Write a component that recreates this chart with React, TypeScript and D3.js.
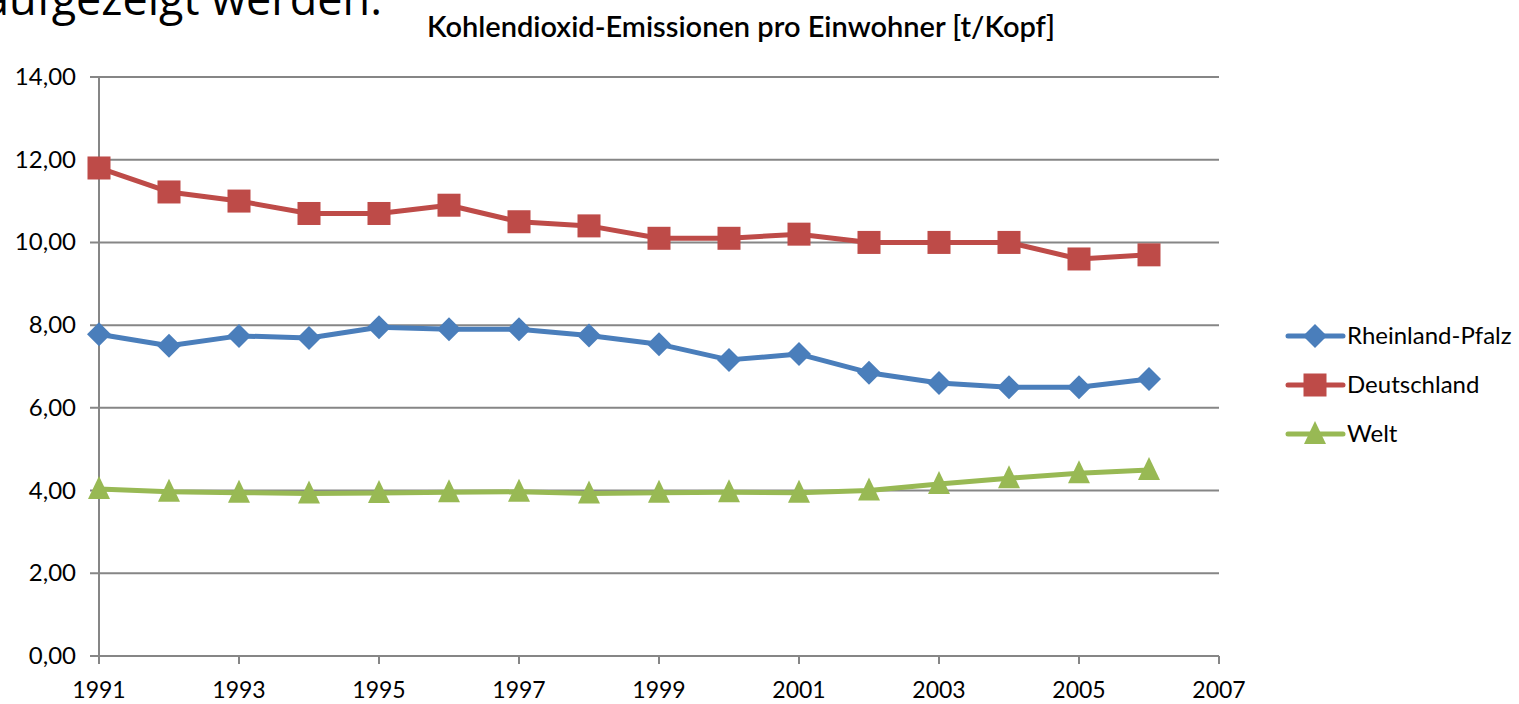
import React from 'react';
import * as d3 from 'd3';

const years = [1991, 1992, 1993, 1994, 1995, 1996, 1997, 1998, 1999, 2000, 2001, 2002, 2003, 2004, 2005, 2006];
const rheinlandPfalz = [7.78, 7.5, 7.74, 7.69, 7.95, 7.9, 7.9, 7.75, 7.54, 7.16, 7.3, 6.85, 6.6, 6.5, 6.5, 6.7];
const deutschland = [11.8, 11.22, 11.0, 10.7, 10.7, 10.9, 10.5, 10.4, 10.1, 10.1, 10.2, 10.0, 10.0, 10.0, 9.6, 9.7];
const welt = [4.04, 3.97, 3.95, 3.93, 3.94, 3.96, 3.97, 3.93, 3.95, 3.96, 3.95, 4.0, 4.16, 4.3, 4.42, 4.5];
const xTicks = [1991, 1993, 1995, 1997, 1999, 2001, 2003, 2005, 2007];
const yTicks = [0, 2, 4, 6, 8, 10, 12, 14];

const seriesList = [
  { name: 'Rheinland-Pfalz', values: rheinlandPfalz, color: '#4a7ebb', marker: 'diamond' },
  { name: 'Deutschland', values: deutschland, color: '#be4b48', marker: 'square' },
  { name: 'Welt', values: welt, color: '#98b954', marker: 'triangle' },
];

const font = 'Lato, "Open Sans", sans-serif';

const Marker = ({ type, x, y, color }: { type: string; x: number; y: number; color: string }) => {
  if (type === 'square') {
    return <rect x={x - 11.5} y={y - 11.5} width={23} height={23} fill={color} />;
  }
  if (type === 'diamond') {
    return <path d={`M${x},${y - 12}L${x + 12},${y}L${x},${y + 12}L${x - 12},${y}Z`} fill={color} />;
  }
  return <path d={`M${x},${y - 13}L${x + 11},${y + 10}L${x - 11},${y + 10}Z`} fill={color} />;
};

const App = () => {
  const width = 1519;
  const height = 704;
  const x = d3.scaleLinear().domain([1991, 2007]).range([99, 1219]);
  const y = d3.scaleLinear().domain([0, 14]).range([656, 77]);
  const line = d3.line<number>().x((d, i) => x(years[i])).y(d => y(d));
  const grid = '#868686';

  return (
    <svg width={width} height={height} style={{ position: 'absolute', left: 0, top: 0 }}>
      <rect width={width} height={height} fill="#fff" />
      <text x={382} y={15} textAnchor="end" fontFamily='"Open Sans", sans-serif' fontSize={45} fill="#000">
        aufgezeigt werden.
      </text>
      <text x={741} y={37} textAnchor="middle" fontFamily={font} fontSize={29} fontWeight={600} fill="#000">
        Kohlendioxid-Emissionen pro Einwohner [t/Kopf]
      </text>

      {yTicks.map(t => (
        <g key={`y${t}`}>
          <line x1={90} x2={1219} y1={y(t)} y2={y(t)} stroke={grid} strokeWidth={2} />
          <text x={76} y={y(t) + 8} textAnchor="end" fontFamily={font} fontSize={24} fill="#000">
            {d3.format('.2f')(t).replace('.', ',')}
          </text>
        </g>
      ))}
      <line x1={99} x2={99} y1={77} y2={664} stroke={grid} strokeWidth={2} />
      {xTicks.map(t => (
        <g key={`x${t}`}>
          <line x1={x(t)} x2={x(t)} y1={656} y2={664} stroke={grid} strokeWidth={2} />
          <text x={x(t)} y={698} textAnchor="middle" fontFamily={font} fontSize={23} fill="#000">
            {t}
          </text>
        </g>
      ))}

      {seriesList.map(s => (
        <g key={s.name}>
          <path d={line(s.values) || ''} fill="none" stroke={s.color} strokeWidth={5} strokeLinejoin="round" strokeLinecap="round" />
          {s.values.map((v, i) => (
            <Marker key={i} type={s.marker} x={x(years[i])} y={y(v)} color={s.color} />
          ))}
        </g>
      ))}

      {seriesList.map((s, i) => {
        const ly = 336 + i * 49;
        return (
          <g key={`leg${s.name}`}>
            <line x1={1288} x2={1343} y1={ly} y2={ly} stroke={s.color} strokeWidth={5} strokeLinecap="round" />
            <Marker type={s.marker} x={1315} y={ly} color={s.color} />
            <text x={1347} y={ly + 8} fontFamily={font} fontSize={24} fill="#000">
              {s.name}
            </text>
          </g>
        );
      })}
    </svg>
  );
};

export default App;
